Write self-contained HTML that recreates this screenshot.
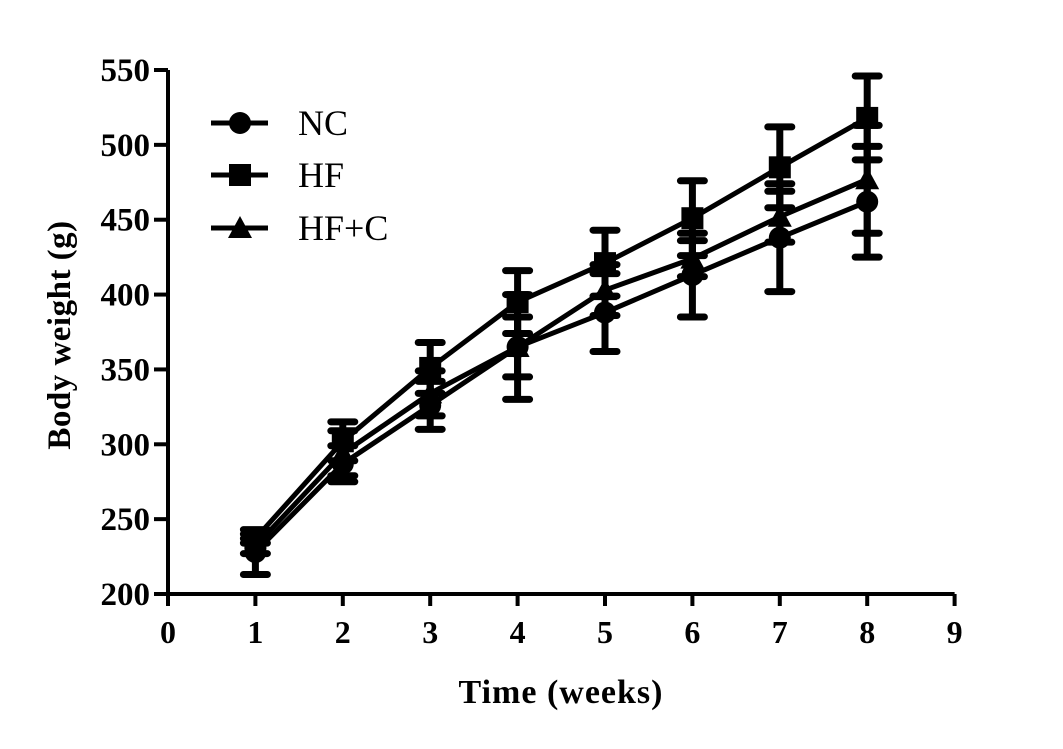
<!DOCTYPE html>
<html><head><meta charset="utf-8"><style>
html,body{margin:0;padding:0;background:#fff;}
svg{display:block;font-family:"Liberation Serif",serif;}
</style></head><body>
<svg id="chart" width="1063" height="749" viewBox="0 0 1063 749">
<g id="axes"></g>
<g id="series"></g>
<g id="legend"></g>
<text x="561" y="703" text-anchor="middle" font-size="34" font-weight="bold" letter-spacing="1">Time (weeks)</text>
<text transform="translate(70,335) rotate(-90)" text-anchor="middle" font-size="33" font-weight="bold" letter-spacing="0.5">Body weight (g)</text>
</svg>
<script>
const weeks = [1,2,3,4,5,6,7,8];
const seriesNames = ["NC","HF","HF+C"];
const ncValues = [228,287,326,365,388,413,438,462];
const ncErrors = [15,12,16,35,26,28,36,37];
const hfValues = [237,302,351,395,421,451,485,518];
const hfErrors = [3,13,17,21,22,25,27,28];
const hfcValues = [232,294,334,365,403,424,452,477];
const hfcErrors = [5,15,15,20,17,12,17,36];
const xTicks = [0,1,2,3,4,5,6,7,8,9];
const yTicks = [200,250,300,350,400,450,500,550];

const NS="http://www.w3.org/2000/svg";
const X0=168, XS=87.4, Y0=594, YS=524/350;
const xs=v=>X0+v*XS, ys=v=>Y0-(v-200)*YS;
function mk(tag,attrs,parent){const e=document.createElementNS(NS,tag);for(const k in attrs)e.setAttribute(k,attrs[k]);parent.appendChild(e);return e;}
const axes=document.getElementById('axes');
let a=mk('line',{x1:X0,y1:Y0,x2:xs(9),y2:Y0,stroke:'#000','stroke-width':4},axes);


a=mk('line',{x1:X0,y1:ys(550),x2:X0,y2:Y0+2,stroke:'#000','stroke-width':4},axes);


xTicks.forEach(t=>{
 const l=mk('line',{x1:xs(t),y1:Y0,x2:xs(t),y2:Y0+12,stroke:'#000','stroke-width':4},axes);
 
 
 const tx=mk('text',{x:xs(t),y:Y0+49,'text-anchor':'middle','font-size':32,'font-weight':'bold'},axes);
 tx.textContent=t;
 
 
});
yTicks.forEach(t=>{
 const l=mk('line',{x1:X0-14,y1:ys(t),x2:X0,y2:ys(t),stroke:'#000','stroke-width':4},axes);
 
 
 const tx=mk('text',{x:X0-18,y:ys(t)+11,'text-anchor':'end','font-size':33,'font-weight':'bold'},axes);
 tx.textContent=t;
 
 
});
function marker(shape,x,y,g){
 let m;
 if(shape==='circle') m=mk('circle',{cx:x,cy:y,r:11,fill:'#000'},g);
 else if(shape==='square') m=mk('rect',{x:x-11,y:y-11,width:22,height:22,fill:'#000'},g);
 else m=mk('polygon',{points:`${x},${y-12} ${x+12},${y+10} ${x-12},${y+10}`,fill:'#000'},g);
 return m;
}
const sdefs=[[ncValues,ncErrors,'circle','nc'],[hfValues,hfErrors,'square','hf'],[hfcValues,hfcErrors,'triangle','hfc']];
const sg=document.getElementById('series');
sdefs.forEach(([vals,errs,shape,nm])=>{
 const g=mk('g',{},sg);
 
 
 vals.forEach((v,i)=>{
  const x=xs(weeks[i]);
  const e=mk('path',{d:`M${x},${ys(v+errs[i])}V${ys(v-errs[i])}M${x-12},${ys(v+errs[i])}H${x+12}M${x-12},${ys(v-errs[i])}H${x+12}`,stroke:'#000','stroke-width':7,'stroke-linecap':'round',fill:'none'},g);
  
  
 });
 const pl=mk('polyline',{points:vals.map((v,i)=>xs(weeks[i])+','+ys(v)).join(' '),fill:'none',stroke:'#000','stroke-width':5},g);
 
 
 vals.forEach((v,i)=>{
  const m=marker(shape,xs(weeks[i]),ys(v),g);
  
  
 });
});
const lg=document.getElementById('legend');
[['circle',123],['square',175],['triangle',228]].forEach(([shape,y],i)=>{
 const g=mk('g',{},lg);
 
 
 mk('line',{x1:211,y1:y,x2:268,y2:y,stroke:'#000','stroke-width':5},g);
 marker(shape,240,y,g);
 const t=mk('text',{x:298,y:y+12,'font-size':36},g);
 t.textContent=seriesNames[i];
});
</script>
</body></html>
